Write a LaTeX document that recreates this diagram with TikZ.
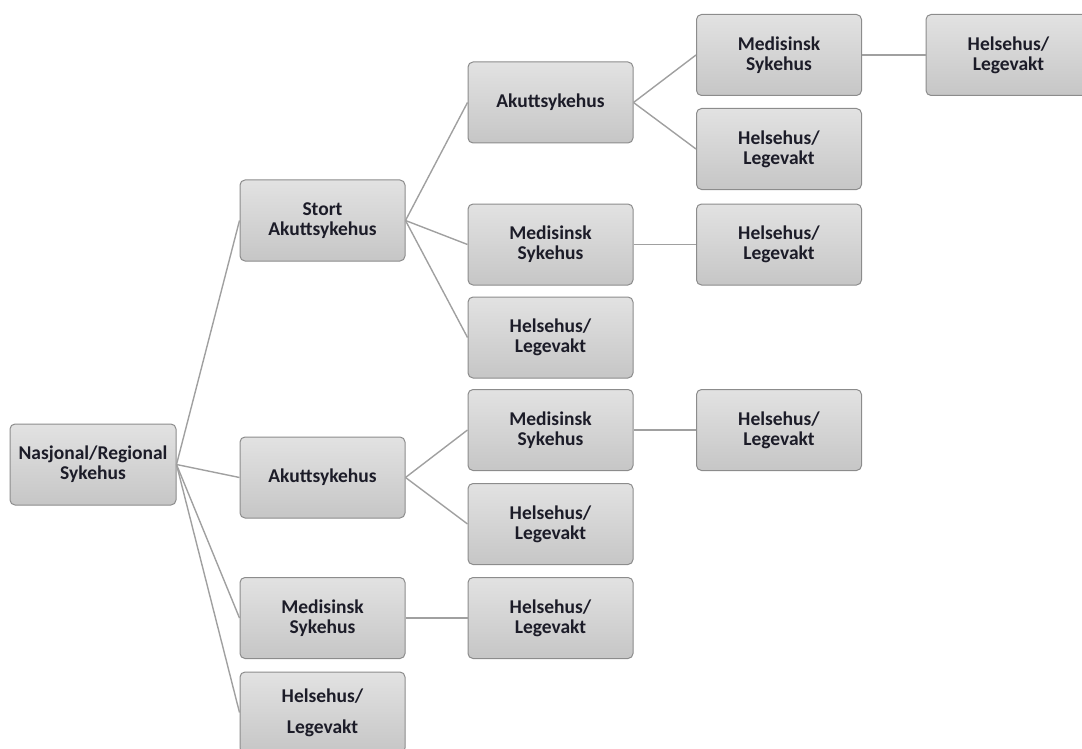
\documentclass[tikz,border=0pt]{standalone}
\usepackage{fontspec}
\setmainfont{Carlito}
\definecolor{boxline}{HTML}{8C8C8C}
\definecolor{conn}{HTML}{A0A0A0}
\definecolor{boxtop}{HTML}{E2E2E2}
\definecolor{boxbot}{HTML}{C6C6C6}
\definecolor{txt}{HTML}{1C1C28}
\begin{document}
\begin{tikzpicture}[x=1pt,y=-1pt,
  box/.style={draw=boxline, line width=1pt, rounded corners=5pt,
    top color=boxtop, bottom color=boxbot,
    minimum width=165pt, minimum height=81pt, inner sep=1pt,
    align=center, text=txt, font=\bfseries\fontsize{19.5}{20}\selectfont},
  wide/.style={font=\bfseries\fontsize{19.5}{31}\selectfont},
  conn/.style={draw=conn, line width=1.4pt}]
\useasboundingbox (0,0) rectangle (1082,749);
% root
\node[box, minimum width=166pt] (r) at (93,464.5) {Nasjonal/Regional\\Sykehus};
% level 1
\node[box] (a1) at (322.5,220.5) {Stort\\Akuttsykehus};
\node[box] (a2) at (322.5,477.5) {Akuttsykehus};
\node[box] (a3) at (322.5,618) {Medisinsk\\Sykehus};
\node[box, wide] (a4) at (322.5,712.5) {Helsehus/\\Legevakt};
% level 2
\node[box] (b1) at (550.5,102.5) {Akuttsykehus};
\node[box] (b2) at (550.5,244.5) {Medisinsk\\Sykehus};
\node[box] (b3) at (550.5,337.5) {Helsehus/\\Legevakt};
\node[box] (b4) at (550.5,430) {Medisinsk\\Sykehus};
\node[box] (b5) at (550.5,524) {Helsehus/\\Legevakt};
\node[box] (b6) at (550.5,618) {Helsehus/\\Legevakt};
% level 3
\node[box] (c1) at (779,55) {Medisinsk\\Sykehus};
\node[box] (c2) at (779,149) {Helsehus/\\Legevakt};
\node[box] (c3) at (779,244.5) {Helsehus/\\Legevakt};
\node[box] (c4) at (779,430) {Helsehus/\\Legevakt};
% level 4
\node[box] (d1) at (1008.5,55) {Helsehus/\\Legevakt};
% connectors
\foreach \p/\c in {r/a1,r/a2,r/a3,r/a4,a1/b1,a1/b2,a1/b3,a2/b4,a2/b5,a3/b6,b1/c1,b1/c2,b2/c3,b4/c4,c1/d1}
  \draw[conn] (\p.east) -- (\c.west);
\end{tikzpicture}
\end{document}
